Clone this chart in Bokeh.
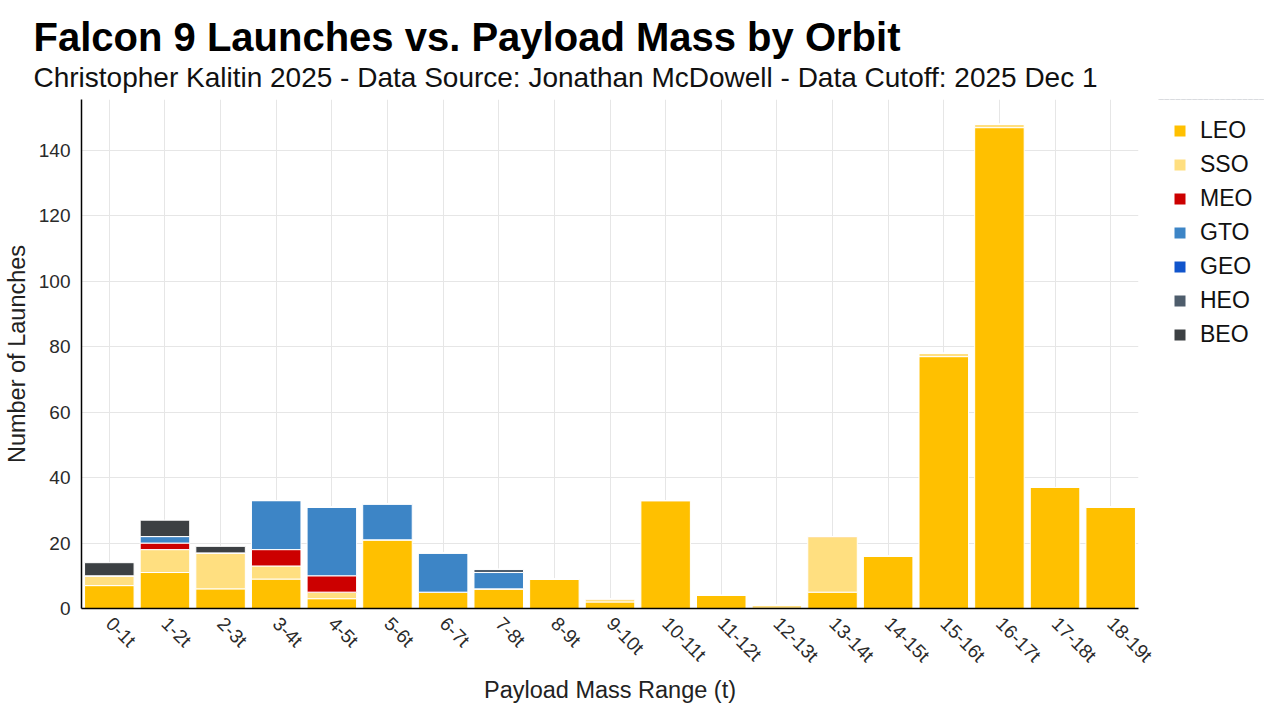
from bokeh.plotting import figure
from bokeh.models import Title, Range1d, FactorRange, FixedTicker, Legend, LegendItem, Grid
from bokeh.layouts import row
from bokeh.embed import file_html
from bokeh.resources import INLINE

categories = ["0-1t", "1-2t", "2-3t", "3-4t", "4-5t", "5-6t", "6-7t", "7-8t", "8-9t", "9-10t",
              "10-11t", "11-12t", "12-13t", "13-14t", "14-15t", "15-16t", "16-17t", "17-18t", "18-19t"]
orbits = ["LEO", "SSO", "MEO", "GTO", "GEO", "HEO", "BEO"]
LEO = [7, 11, 6, 9, 3, 21, 5, 6, 9, 2, 33, 4, 0, 5, 16, 77, 147, 37, 31]
SSO = [3, 7, 11, 4, 2, 0, 0, 0, 0, 1, 0, 0, 1, 17, 0, 1, 1, 0, 0]
MEO = [0, 2, 0, 5, 5, 0, 0, 0, 0, 0, 0, 0, 0, 0, 0, 0, 0, 0, 0]
GTO = [0, 2, 0, 15, 21, 11, 12, 5, 0, 0, 0, 0, 0, 0, 0, 0, 0, 0, 0]
GEO = [0, 0, 0, 0, 0, 0, 0, 0, 0, 0, 0, 0, 0, 0, 0, 0, 0, 0, 0]
HEO = [0, 0, 0, 0, 0, 0, 0, 1, 0, 0, 0, 0, 0, 0, 0, 0, 0, 0, 0]
BEO = [4, 5, 2, 0, 0, 0, 0, 0, 0, 0, 0, 0, 0, 0, 0, 0, 0, 0, 0]
colors = ["#FFC000", "#FFDF80", "#CC0000", "#3D85C6", "#1155CC", "#4E5D6C", "#3C4043"]
y_ticks = [0, 20, 40, 60, 80, 100, 120, 140]

FONT = "Liberation Sans"

source = dict(cats=categories, LEO=LEO, SSO=SSO, MEO=MEO, GTO=GTO, GEO=GEO, HEO=HEO, BEO=BEO)

# ---------------- main chart ----------------
p = figure(width=1158, height=704, x_range=FactorRange(*categories, range_padding=0),
           y_range=Range1d(0, 155.6), output_backend="svg", toolbar_location=None,
           min_border_left=73, min_border_right=20, min_border_bottom=0, min_border_top=0)

p.vbar_stack(orbits, x="cats", width=0.89, color=colors, source=source,
             line_color="white", line_width=1)

p.outline_line_color = None
p.background_fill_color = "white"
p.border_fill_color = "white"

p.xgrid.grid_line_color = "#e6e6e6"
p.ygrid.grid_line_color = "#e6e6e6"

p.yaxis.ticker = FixedTicker(ticks=y_ticks)
for ax in (p.xaxis[0], p.yaxis[0]):
    ax.axis_line_color = "black"
    ax.axis_line_width = 1.5
    ax.major_tick_line_color = None
    ax.minor_tick_line_color = None
    ax.major_label_text_font = FONT
    ax.major_label_text_font_size = "19px"
    ax.major_label_text_color = "#2a2a2a"
    ax.axis_label_text_font = FONT
    ax.axis_label_text_font_size = "23.5px"
    ax.axis_label_text_font_style = "normal"
    ax.axis_label_text_color = "#222222"

p.yaxis.axis_label = "Number of Launches"
p.yaxis.major_label_standoff = 5
p.yaxis.axis_label_standoff = 6
p.xaxis.major_label_orientation = -0.785
p.xaxis.major_label_standoff = 6

xlabel = Title(text="Payload Mass Range (t)", align="center", text_font=FONT,
               text_font_size="23.5px", text_font_style="normal", text_color="#222222",
               standoff=0, vertical_align="top")
p.add_layout(xlabel, "below")

sub = Title(text="Christopher Kalitin 2025 - Data Source: Jonathan McDowell - Data Cutoff: 2025 Dec 1",
            align="left", offset=-48, text_font=FONT, text_font_size="28px",
            text_font_style="normal", text_color="#111111", standoff=14)
main = Title(text="Falcon 9 Launches vs. Payload Mass by Orbit",
             align="left", offset=-48, text_font=FONT, text_font_size="40px",
             text_font_style="bold", text_color="#000000", standoff=0)
try:
    main.standoff = -13
except Exception:
    pass
try:
    main.padding = dict(left=0, right=0, top=19, bottom=0)
except Exception:
    pass
p.add_layout(sub, "above")
p.add_layout(main, "above")

# ---------------- legend panel ----------------
lf = figure(width=106, height=704, x_range=FactorRange(*categories), y_range=Range1d(-2, -1),
            x_axis_type=None, y_axis_type=None, output_backend="svg", toolbar_location=None,
            min_border_left=0, min_border_right=0, min_border_top=0, min_border_bottom=0)
lf.outline_line_color = None
lf.background_fill_color = "white"
lf.border_fill_color = "white"
lf.center = [r for r in lf.center if not isinstance(r, Grid)]
lrs = lf.vbar_stack(orbits, x="cats", width=0.89, color=colors, source=source,
                    line_color="white", line_width=1)
items = [LegendItem(label=name, renderers=[r]) for name, r in zip(orbits, lrs)]
legend = Legend(items=items, location=(14, 260), padding=0, margin=0,
                border_line_color=None, background_fill_alpha=0,
                glyph_width=15, glyph_height=15, label_height=27, spacing=7,
                label_standoff=13, label_text_font=FONT, label_text_font_size="23px",
                label_text_color="#111111")
lf.add_layout(legend, "center")

layout = row(p, lf, spacing=0)
open("out.html", "w").write(file_html(layout, INLINE))
